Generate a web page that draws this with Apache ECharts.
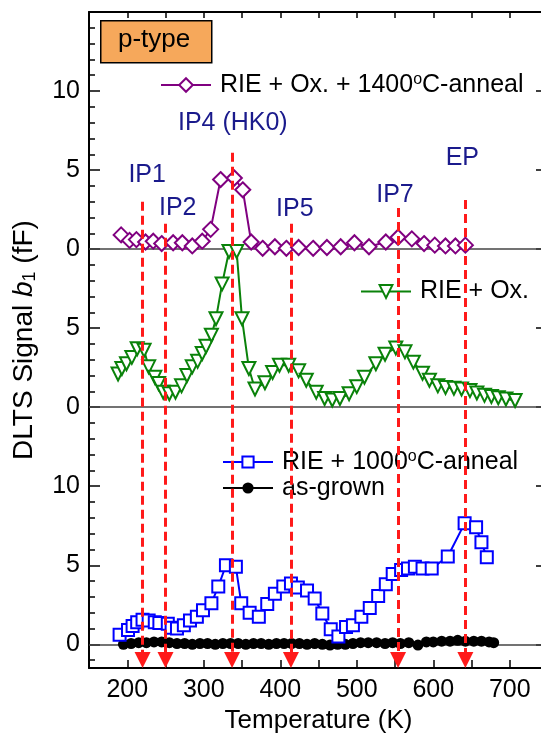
<!DOCTYPE html>
<html><head><meta charset="utf-8">
<script src="https://cdn.jsdelivr.net/npm/echarts@6/dist/echarts.min.js"></script>
<style>html,body{margin:0;padding:0;background:#fff}#c{width:541px;height:733px}</style>
</head><body><div id="c"></div>
<script>
// ---- data (Temperature K, DLTS signal fF) ----
const t1400 = [192, 203, 212, 224, 234, 245, 260, 272, 285, 298, 309, 322, 340, 351, 362, 377, 393, 408, 424, 443, 461, 479, 497, 516, 538, 554, 572, 588, 602, 616, 629, 642];
const v1400 = [0.9, 0.55, 0.6, 0.45, 0.5, 0.35, 0.4, 0.4, 0.2, 0.5, 1.25, 4.4, 4.5, 3.75, 0.45, 0.05, 0.15, 0.05, 0.1, 0.05, 0.1, 0.15, 0.4, 0.15, 0.45, 0.75, 0.65, 0.35, 0.25, 0.2, 0.2, 0.25];

const tOx = [188, 193, 199, 206, 213, 222, 228, 236, 241, 247, 255, 263, 271, 278, 285, 292, 298, 303, 310, 316, 324, 333, 343, 350, 359, 367, 380, 390, 399, 411, 424, 434, 447, 458, 468, 478, 490, 500, 510, 525, 537, 551, 563, 574, 586, 595, 606, 616, 627, 637, 648, 657, 667, 676, 685, 695, 707];
const vOx = [2.1, 2.45, 2.75, 3.15, 3.7, 3.6, 2.55, 1.9, 1.5, 0.95, 0.85, 0.95, 1.35, 2.0, 2.55, 2.9, 3.4, 3.85, 4.55, 5.6, 7.8, 9.85, 9.85, 5.6, 2.45, 1.15, 1.55, 2.2, 2.65, 2.65, 2.3, 1.7, 0.95, 0.55, 0.45, 0.55, 0.85, 1.3, 1.9, 2.75, 3.35, 3.75, 3.5, 2.85, 2.15, 1.7, 1.35, 1.25, 1.2, 1.15, 1.05, 0.9, 0.75, 0.68, 0.6, 0.52, 0.42];

const t1000 = [190, 201, 207, 213, 220, 228, 236, 242, 253, 258, 265, 274, 282, 291, 299, 310, 319, 329, 342, 349, 360, 372, 383, 393, 404, 414, 423, 435, 445, 455, 466, 476, 486, 495, 506, 517, 528, 538, 547, 558, 567, 576, 586, 598, 619, 641, 656, 663, 670];
const v1000 = [0.6, 0.9, 1.15, 1.4, 1.55, 1.5, 1.4, 1.35, 1.3, 1.05, 1.0, 1.2, 1.5, 1.75, 2.15, 2.6, 3.65, 5.0, 4.9, 2.6, 2.0, 1.75, 2.55, 3.2, 3.65, 3.85, 3.6, 3.4, 2.9, 1.95, 0.95, 0.5, 1.1, 1.2, 1.75, 2.3, 3.05, 3.8, 4.45, 4.7, 4.8, 4.9, 4.8, 4.8, 5.55, 7.65, 7.4, 6.45, 5.5];

const tGrown = [195, 205, 215, 225, 235, 245, 255, 265, 275, 285, 295, 305, 315, 325, 335, 345, 355, 365, 375, 385, 395, 405, 415, 425, 435, 445, 455, 465, 475, 485, 495, 505, 515, 526, 537, 547, 557, 568, 580, 591, 600, 611, 622, 632, 642, 653, 663, 673, 679];
const vGrown = [0.0, 0.05, 0.1, 0.1, 0.15, 0.15, 0.1, 0.05, 0.05, 0.0, 0.05, 0.05, 0.0, 0.05, 0.05, 0.05, 0.0, 0.05, 0.05, 0.0, 0.05, 0.05, 0.05, 0.05, 0.0, 0.05, 0.0, -0.05, 0.0, 0.0, 0.05, 0.1, 0.1, 0.1, 0.05, 0.1, 0.05, 0.1, -0.05, 0.15, 0.15, 0.2, 0.2, 0.25, 0.2, 0.2, 0.2, 0.15, 0.1];

// panel offsets (stacked panels on one axis)
const offTop = 25, offMid = 15, offBot = 0;

// peak markers
const peakNames = ['IP1', 'IP2', 'IP4 (HK0)', 'IP5', 'IP7', 'EP'];
const peakT = [220, 250, 337, 414, 554, 642];
const arrowTop = [28.0, 26.6, 31.1, 26.6, 27.6, 28.1];
const arrowEnd = -1.0;
const labelT = [226, 266, 338, 419, 550, 638];
const labelY = [29.7, 27.6, 33.0, 27.5, 28.4, 30.75];

// axes
const xLabelValues = [200, 300, 400, 500, 600, 700];
const yLabelValues = [0, 5, 10, 15, 20, 25, 30, 35];
const yLabelTexts = ['0', '5', '10', '0', '5', '0', '5', '10'];
const yMinorTicks = [];
for (let v = -1; v <= 39; v++) yMinorTicks.push(v);
const zeroLines = [offBot, offMid, offTop];

const names = ['RIE + Ox. + 1400°C-anneal', 'RIE + Ox.', 'RIE + 1000°C-anneal', 'as-grown'];
const FF = "'Liberation Sans', Arial, Helvetica, sans-serif";
const NAVY = '#1a1a8c';

function pts(ts, vs, off) { return ts.map((t, i) => [t, vs[i] + off]); }

const richLegend = {
  a: {fontSize: 25, fontFamily: FF, color: '#000', lineHeight: 26},
  sup: {fontSize: 16, fontFamily: FF, color: '#000', lineHeight: 13, verticalAlign: 'top'}
};
function legendFmt(n) {
  if (n.indexOf('°') >= 0) {
    const p = n.split('°');
    return '{a|' + p[0] + '}{sup|o}{a|' + p[1] + '}';
  }
  return '{a|' + n + '}';
}

const grid = {left: 89, right: -7, top: 12, bottom: 65, outerBoundsMode: 'none', containLabel: false};
const baseX = {type: 'value', min: 150, max: 750, interval: 50, splitLine: {show: false}};
const baseY = {type: 'value', min: -1.5, max: 40, splitLine: {show: false}};

const option = {
  backgroundColor: '#fff',
  animation: false,
  grid: grid,
  xAxis: [
    Object.assign({}, baseX, {
      position: 'bottom',
      axisLine: {onZero: false, lineStyle: {color: '#000', width: 2}},
      axisTick: {inside: true, length: 8, lineStyle: {color: '#000', width: 1.5}},
      axisLabel: {customValues: xLabelValues, fontSize: 25, fontFamily: FF, color: '#000', margin: 10},
      name: 'Temperature (K)', nameLocation: 'middle', nameGap: 38,
      nameTextStyle: {fontSize: 26, fontFamily: FF, color: '#000'}
    }),
    Object.assign({}, baseX, {
      position: 'top',
      axisLine: {onZero: false, lineStyle: {color: '#000', width: 2}},
      axisTick: {inside: true, length: 6, lineStyle: {color: '#000', width: 1.5}},
      axisLabel: {show: false}
    })
  ],
  yAxis: [
    Object.assign({}, baseY, {
      position: 'left',
      axisLine: {show: true, onZero: false, lineStyle: {color: '#000', width: 2}},
      axisTick: {inside: true, length: 6, customValues: yMinorTicks, lineStyle: {color: '#000', width: 1.5}},
      axisLabel: {customValues: yLabelValues, fontSize: 25, fontFamily: FF, color: '#000', margin: 9,
        formatter: v => { const i = yLabelValues.indexOf(Math.round(v)); return i >= 0 ? yLabelTexts[i] : ''; }},
      name: '{n|DLTS Signal }{i|b}{s|1}{n| (fF)}', nameLocation: 'middle', nameGap: 50,
      nameTextStyle: {
        rich: {
          n: {fontSize: 28, fontFamily: FF, color: '#000', lineHeight: 30},
          i: {fontSize: 28, fontFamily: FF, color: '#000', fontStyle: 'italic', lineHeight: 30},
          s: {fontSize: 18, fontFamily: FF, color: '#000', lineHeight: 14, verticalAlign: 'bottom'}
        }
      }
    }),
    Object.assign({}, baseY, {
      position: 'left',
      axisLine: {show: false, onZero: false},
      axisTick: {show: true, inside: true, length: 11, customValues: yLabelValues, lineStyle: {color: '#000', width: 1.5}},
      axisLabel: {show: false}
    }),
    Object.assign({}, baseY, {
      position: 'right',
      axisLine: {show: true, onZero: false, lineStyle: {color: '#000', width: 2}},
      axisTick: {show: true, inside: true, length: 12, customValues: yLabelValues, lineStyle: {color: '#000', width: 1.5}},
      axisLabel: {show: false}
    })
  ],
  legend: [
    {data: [names[0]], left: 160, top: 72, padding: 0, itemWidth: 50, itemHeight: 17,
      formatter: legendFmt, textStyle: {rich: richLegend, padding: [0, 0, 0, 4]}},
    {data: [names[1]], left: 360, top: 279, padding: 0, itemWidth: 50, itemHeight: 16,
      formatter: legendFmt, textStyle: {rich: richLegend, padding: [0, 0, 0, 4]}},
    {data: [names[2], names[3]], orient: 'vertical', left: 222, top: 449, padding: 0, itemGap: 1,
      itemWidth: 50, itemHeight: 14, formatter: legendFmt, textStyle: {rich: richLegend, padding: [0, 0, 0, 4]}}
  ],
  graphic: [
    {type: 'rect', left: 100, top: 20, shape: {width: 111, height: 42},
      style: {fill: '#F6A85B', stroke: '#000', lineWidth: 1.5}, z: 20},
    {type: 'text', left: 118, top: 27, z: 21,
      style: {text: 'p-type', fontSize: 26, fontFamily: FF, fill: '#000'}}
  ],
  series: [
    {
      type: 'line', name: 'zero', data: [], silent: true,
      markLine: {silent: true, z: 1, symbol: ['none', 'none'], label: {show: false},
        lineStyle: {type: 'solid', color: '#444', width: 1.5},
        data: zeroLines.map(v => ({yAxis: v}))}
    },
    {
      type: 'line', name: names[0], data: pts(t1400, v1400, offTop), z: 3,
      symbol: 'emptyDiamond', symbolSize: 15, showAllSymbol: true,
      lineStyle: {color: '#800080', width: 2}, itemStyle: {color: '#800080', borderWidth: 2}
    },
    {
      type: 'line', name: names[1], data: pts(tOx, vOx, offMid), z: 3,
      symbol: 'emptyTriangle', symbolRotate: 180, symbolSize: 13, showAllSymbol: true,
      lineStyle: {color: '#0a820a', width: 2}, itemStyle: {color: '#0a820a', borderWidth: 2}
    },
    {
      type: 'line', name: names[2], data: pts(t1000, v1000, offBot), z: 4,
      symbol: 'emptyRect', symbolSize: 12, showAllSymbol: true,
      lineStyle: {color: '#0000ff', width: 2}, itemStyle: {color: '#0000ff', borderWidth: 2}
    },
    {
      type: 'line', name: names[3], data: pts(tGrown, vGrown, offBot), z: 3,
      symbol: 'circle', symbolSize: 11, showAllSymbol: true,
      lineStyle: {color: '#000', width: 2}, itemStyle: {color: '#000'}
    },
    {
      type: 'line', name: 'arrows', data: [], silent: true, z: 10,
      markLine: {silent: true, z: 10, symbol: ['none', 'triangle'], symbolSize: 16,
        label: {show: false},
        lineStyle: {type: [9, 5], color: '#ff1a1a', width: 3},
        data: peakT.map((t, i) => [{coord: [t, arrowTop[i]]}, {coord: [t, arrowEnd]}])}
    },
    {
      type: 'scatter', name: 'peaks', z: 11, silent: true,
      symbolSize: 1, itemStyle: {color: 'rgba(255,255,255,0)', opacity: 1},
      data: labelT.map((t, i) => [t, labelY[i], peakNames[i]]),
      label: {show: true, position: 'inside', formatter: p => p.data[2],
        fontSize: 25, fontFamily: FF, color: NAVY, opacity: 1}
    }
  ]
};
const chart = echarts.init(document.getElementById('c'));
chart.setOption(option);
</script></body></html>
